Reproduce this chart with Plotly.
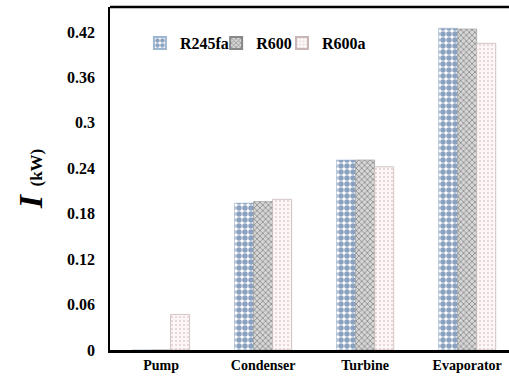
import plotly.graph_objects as go

categories = ["Pump", "Condenser", "Turbine", "Evaporator"]
r245fa = [0.0, 0.194, 0.251, 0.425]
r600 = [0.0, 0.196, 0.251, 0.424]
r600a = [0.047, 0.199, 0.242, 0.405]
yticks = [0, 0.06, 0.12, 0.18, 0.24, 0.3, 0.36, 0.42]
ytick_text = ["0", "0.06", "0.12", "0.18", "0.24", "0.3", "0.36", "0.42"]

FONT = "Liberation Serif, DejaVu Serif, serif"

fig = go.Figure()
fig.add_trace(go.Bar(
    name="R245fa", x=categories, y=r245fa, legend="legend",
    marker=dict(color="white", line=dict(color="#9fb6d0", width=0.5),
                pattern=dict(shape=".", fgcolor="#15437f", bgcolor="white",
                             size=6, solidity=0.65, fillmode="overlay")),
))
fig.add_trace(go.Bar(
    name="R600", x=categories, y=r600, legend="legend2",
    marker=dict(color="#c8c8c8", line=dict(color="#888888", width=0.5),
                pattern=dict(shape="x", fgcolor="#4e4e4e", bgcolor="#d6d6d6",
                             size=4, solidity=0.4, fillmode="overlay")),
))
fig.add_trace(go.Bar(
    name="R600a", x=categories, y=r600a, legend="legend3",
    marker=dict(color="#fbf3f3", line=dict(color="#c9b6b6", width=0.8),
                pattern=dict(shape=".", fgcolor="#c8a8a8", bgcolor="#fcf6f6",
                             size=4, solidity=0.2, fillmode="overlay")),
))

def leg(x):
    return dict(orientation="h", x=x, y=0.895, xanchor="left", yanchor="middle",
                font=dict(family=FONT, size=16, color="black", weight="bold"),
                bgcolor="rgba(0,0,0,0)", itemwidth=30, itemsizing="constant")

fig.update_layout(
    width=509, height=377,
    margin=dict(l=110, r=0, t=7, b=27),
    paper_bgcolor="white", plot_bgcolor="white",
    barmode="group", bargap=0.44, bargroupgap=0,
    font=dict(family=FONT, color="black"),
    showlegend=True,
    legend=leg(0.075), legend2=leg(0.266), legend3=leg(0.431),
    xaxis=dict(range=[-0.5, 3.41], showgrid=False, showline=True,
               linecolor="black", linewidth=3, ticks="",
               tickfont=dict(family=FONT, size=14, color="black", weight="bold")),
    yaxis=dict(range=[0, 0.453], tickvals=yticks, ticktext=ytick_text,
               showgrid=False, showline=True, linecolor="black", linewidth=1.5,
               ticks="", zeroline=False, ticklabelstandoff=10,
               tickfont=dict(family=FONT, size=16, color="black", weight="bold"),
               title=dict(text="<i>I</i> <span style='font-size:17px'>(kW)</span>",
                          font=dict(family=FONT, size=34, color="black", weight="bold"),
                          standoff=14)),
    shapes=[dict(type="line", xref="paper", yref="paper", x0=0, x1=1, y0=1, y1=1,
                 line=dict(color="black", width=2.5))],
)

fig.write_html("out.html")
